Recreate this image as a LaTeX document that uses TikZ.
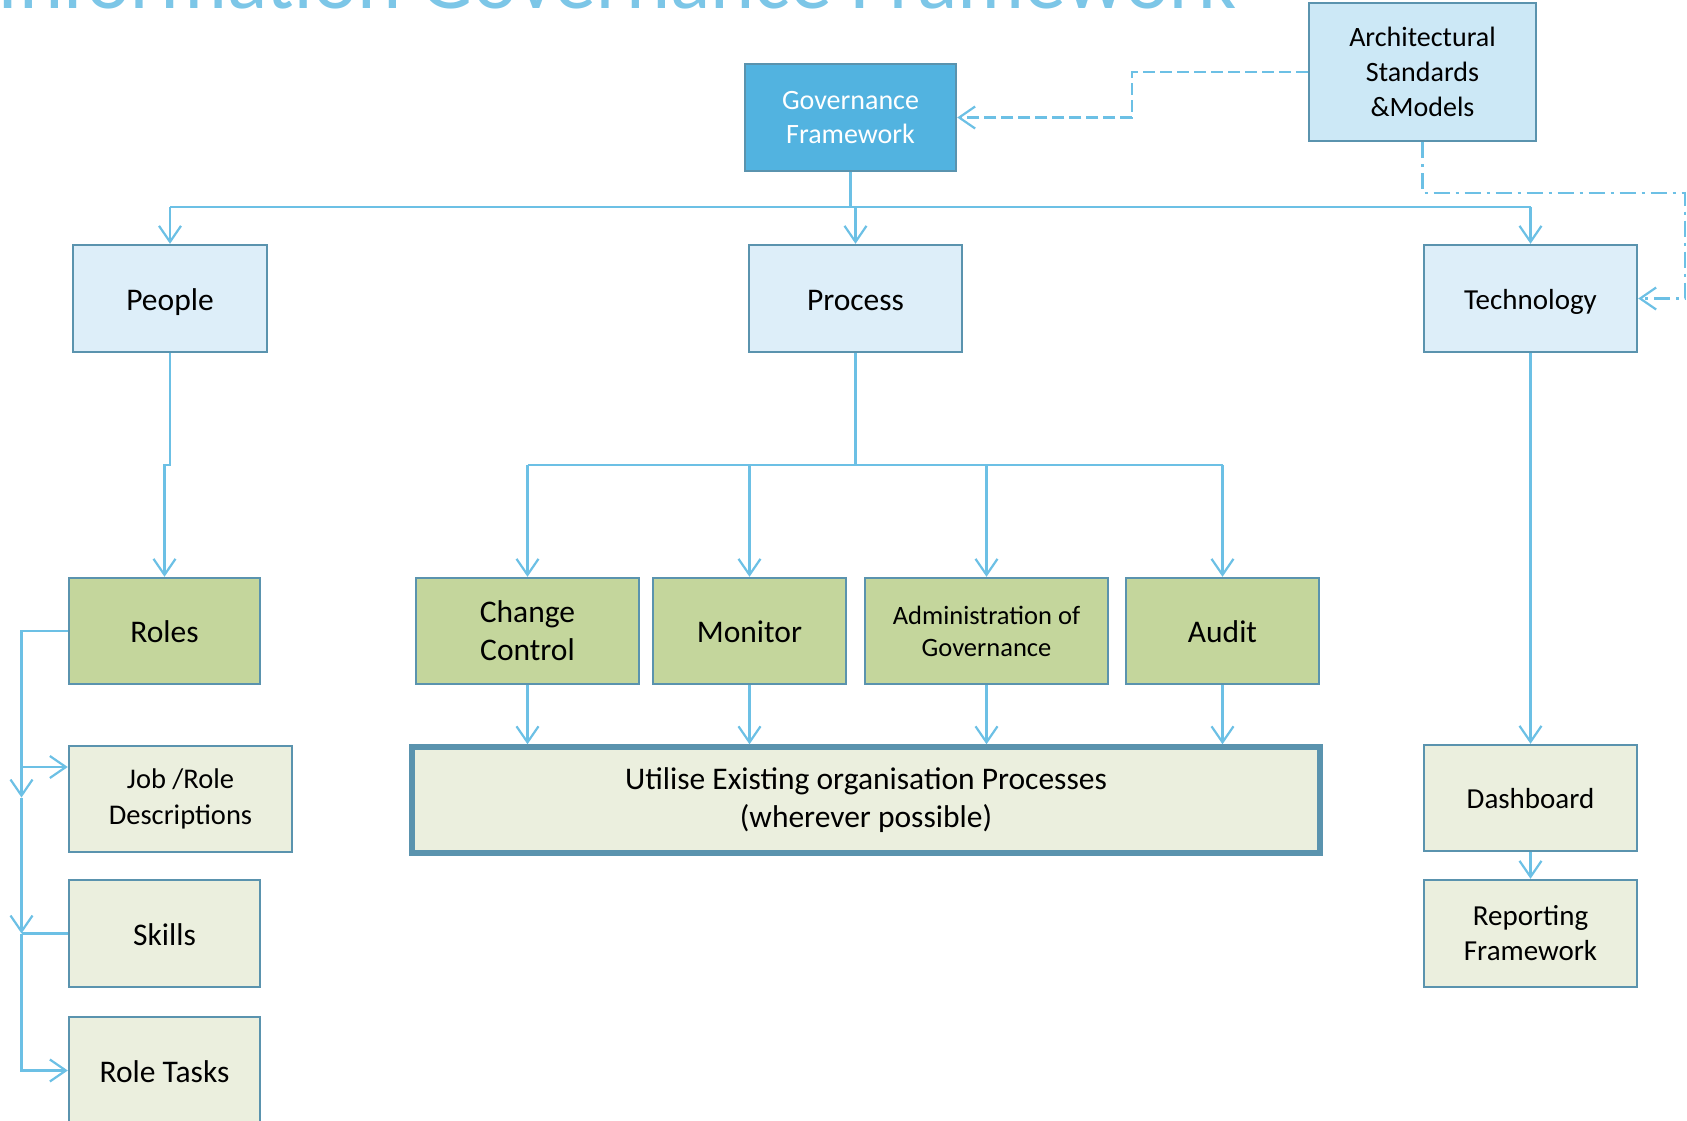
\documentclass[tikz,border=0pt]{standalone}
\usepackage{fontspec}
\setmainfont{Carlito}
\usetikzlibrary{arrows.meta,calc}
\definecolor{lnc}{HTML}{6CC0E5}
\definecolor{bdc}{HTML}{5A93AE}
\definecolor{govf}{HTML}{52B3E0}
\definecolor{archf}{HTML}{CCE8F6}
\definecolor{bluef}{HTML}{DDEEF9}
\definecolor{greenf}{HTML}{C4D69C}
\definecolor{paleg}{HTML}{EBEFDE}
\definecolor{titc}{HTML}{7CC6E7}
\newcommand\myfs[2]{\fontsize{#1}{#2}\selectfont}
\begin{document}
\begin{tikzpicture}[x=1pt,y=-1pt,
  box/.style={draw=bdc,line width=2.4pt,inner sep=0pt,align=center,anchor=center,text=black},
  conn/.style={draw=lnc,line width=2.2pt},
  arr/.style={conn,-{Straight Barb[length=16pt,width=22pt]}},
  dsh/.style={dash pattern=on 12pt off 5pt},
  dshdot/.style={dash pattern=on 16pt off 6pt on 3pt off 6pt},
  bigf/.style={font=\myfs{31.5}{38}},
  big1/.style={font=\myfs{31.5}{38},text height=25pt,text depth=2pt},
  mid1/.style={font=\myfs{29}{35},text height=23pt,text depth=2pt},
  midf/.style={font=\myfs{29}{35}}]
\useasboundingbox (0,0) rectangle (1687,1120);
\clip (0,0) rectangle (1687,1120);

% title (cut off at top, as in the reference)
\node[anchor=base east,inner sep=0pt,text=titc,font=\myfs{84}{90}] (title) at (1237,8) {Information Governance Framework};

% top level
\node[box,fill=govf,text=white,minimum width=211pt,minimum height=107pt,font=\myfs{28}{33.7}] (gov) at (850.5,117.5) {Governance\\Framework};
\node[box,fill=archf,minimum width=227pt,minimum height=138pt,font=\myfs{28}{35}] (arch) at (1422.5,72) {Architectural\\Standards\\\&Models};

% second level
\node[box,fill=bluef,minimum width=194pt,minimum height=107pt,big1] (people) at (170,298.5) {People};
\node[box,fill=bluef,minimum width=213pt,minimum height=107pt,big1] (process) at (855.5,298.5) {Process};
\node[box,fill=bluef,minimum width=213pt,minimum height=107pt,mid1] (tech) at (1530.5,298.5) {Technology};

% third level
\node[box,fill=greenf,minimum width=191pt,minimum height=106pt,big1] (roles) at (164.5,631) {Roles};
\node[box,fill=greenf,minimum width=223pt,minimum height=106pt,bigf] (change) at (527.5,631) {Change\\Control};
\node[box,fill=greenf,minimum width=193pt,minimum height=106pt,big1] (monitor) at (749.5,631) {Monitor};
\node[box,fill=greenf,minimum width=243pt,minimum height=106pt,font=\myfs{26.5}{32}] (admin) at (986.5,631) {Administration of\\Governance};
\node[box,fill=greenf,minimum width=193pt,minimum height=106pt,big1] (audit) at (1222.5,631) {Audit};

% lower level
\node[box,fill=paleg,line width=5.5pt,minimum width=908pt,minimum height=106pt,font=\myfs{31.5}{38.5}] (util) at (866,800) {Utilise Existing organisation Processes\\(wherever possible)};
\node[box,fill=paleg,minimum width=213pt,minimum height=106pt,mid1] (dash) at (1530.5,798) {Dashboard};
\node[box,fill=paleg,minimum width=213pt,minimum height=107pt,midf] (report) at (1530.5,933.5) {Reporting\\Framework};
\node[box,fill=paleg,minimum width=223pt,minimum height=106pt,font=\myfs{28.5}{35.5}] (job) at (180.5,799) {Job /Role\\Descriptions};
\node[box,fill=paleg,minimum width=191pt,minimum height=107pt,big1] (skills) at (164.5,933.5) {Skills};
\node[box,fill=paleg,minimum width=191pt,minimum height=107pt,big1] (tasks) at (164.5,1070.5) {Role Tasks};

% helper coordinates
\coordinate (topbus) at (0,207);
\coordinate (midbus) at (0,465);
\coordinate (jx) at (1132,117.5);
\coordinate (rx) at (1685,193);
\coordinate (L1) at (21.5,797.5);
\coordinate (L2) at (21.5,933.5);

% governance to second level
\draw[conn] (gov.south) -- (gov.south |- topbus);
\draw[conn] (people.north |- topbus) -- (tech.north |- topbus);
\draw[arr] (people.north |- topbus) -- (people.north);
\draw[arr] (process.north |- topbus) -- (process.north);
\draw[arr] (tech.north |- topbus) -- (tech.north);

% architectural links
\draw[arr,dsh] (arch.west) -| (jx) -- (gov.east);
\draw[arr,dshdot] (arch.south) |- (rx) |- (tech.east);

% people to roles
\draw[arr] (people.south) -- (people.south |- midbus) -| (roles.north);

% process to activities
\draw[conn] (process.south) -- (process.south |- midbus);
\draw[conn] (change.north |- midbus) -- (audit.north |- midbus);
\draw[arr] (change.north |- midbus) -- (change.north);
\draw[arr] (monitor.north |- midbus) -- (monitor.north);
\draw[arr] (admin.north |- midbus) -- (admin.north);
\draw[arr] (audit.north |- midbus) -- (audit.north);

% activities to utilise
\draw[arr] (change.south) -- (change.south |- util.north);
\draw[arr] (monitor.south) -- (monitor.south |- util.north);
\draw[arr] (admin.south) -- (admin.south |- util.north);
\draw[arr] (audit.south) -- (audit.south |- util.north);

% technology chain
\draw[arr] (tech.south) -- (dash.north);
\draw[arr] (dash.south) -- (report.north);

% roles chain
\draw[arr] (roles.west) -| (L1);
\draw[arr] (roles.west -| L1) |- ($(job.west)+(0,-32)$);
\draw[arr] (L1) -- (L2);
\draw[conn] (skills.west) -- (L2);
\draw[arr] (L2) |- (tasks.west);
\end{tikzpicture}
\end{document}
